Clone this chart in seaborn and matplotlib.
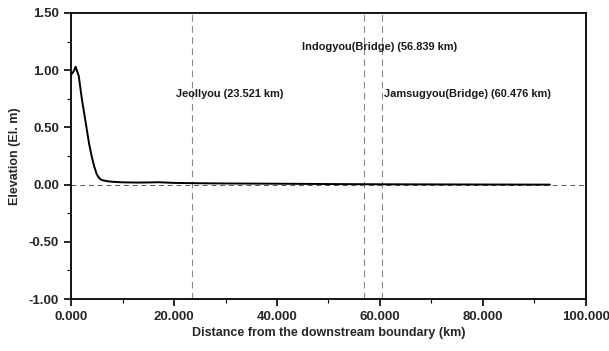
import matplotlib
matplotlib.use("Agg")
import matplotlib.pyplot as plt
import seaborn as sns
import pandas as pd
from matplotlib.ticker import MultipleLocator, FormatStrFormatter
from matplotlib import font_manager

distance_km = [0.0, 0.5, 0.9, 1.5, 2.1, 2.5, 3.0, 3.5, 4.0, 4.5, 5.0, 5.5, 6.0, 7.0, 8.0,
               10.0, 13.0, 15.0, 17.0, 20.0, 25.0, 30.0, 40.0, 50.0, 60.0, 70.0, 80.0, 93.0]
elevation_m = [0.96, 0.99, 1.03, 0.95, 0.75, 0.64, 0.50, 0.36, 0.25, 0.16, 0.09, 0.055, 0.04, 0.03, 0.025,
               0.02, 0.018, 0.019, 0.021, 0.015, 0.012, 0.01, 0.008, 0.005, 0.003, 0.002, 0.001, 0.0]

station_names = ["Jeollyou (23.521 km)", "Indogyou(Bridge) (56.839 km)", "Jamsugyou(Bridge) (60.476 km)"]
station_km = [23.521, 56.839, 60.476]
label_x = [20.3, 44.9, 60.7]
label_y = [0.79, 1.20, 0.79]

sns.set_theme(style="ticks")
plt.rcParams['font.family'] = ['Liberation Sans', 'DejaVu Sans']

bold = None
for f in font_manager.findSystemFonts():
    if f.split("/")[-1] == "LiberationSans-Bold.ttf":
        bold = f
ann_font = (font_manager.FontProperties(fname=bold, size=7.9) if bold
            else font_manager.FontProperties(family="Roboto", weight="bold", size=7.9))

fig = plt.figure(figsize=(6.09, 3.51), dpi=100)
ax = fig.add_axes([0.1166, 0.148, 0.8456, 0.815])

df = pd.DataFrame({"x": distance_km, "y": elevation_m})
sns.lineplot(data=df, x="x", y="y", ax=ax, color="black", linewidth=1.4)

ax.axhline(0, color="#555555", linestyle=(0, (5, 4)), linewidth=0.7, zorder=1)
for k in station_km:
    ax.axvline(k, color="#8a8a8a", linestyle=(0, (6, 4)), linewidth=0.8, zorder=1)
for name, lx, ly in zip(station_names, label_x, label_y):
    ax.text(lx, ly, name, fontproperties=ann_font, color="#1a1a1a", va="center", ha="left")

ax.set_xlim(0, 100)
ax.set_ylim(-1.0, 1.5)
ax.xaxis.set_major_locator(MultipleLocator(20))
ax.xaxis.set_minor_locator(MultipleLocator(10))
ax.yaxis.set_major_locator(MultipleLocator(0.5))
ax.yaxis.set_minor_locator(MultipleLocator(0.25))
ax.xaxis.set_major_formatter(FormatStrFormatter("%.3f"))
ax.yaxis.set_major_formatter(FormatStrFormatter("%.2f"))
ax.tick_params(axis="both", which="major", direction="out", length=5, width=1.2,
               labelsize=9.5, color="black")
ax.tick_params(axis="both", which="minor", direction="out", length=3, width=0.8, color="black")
for lab in ax.get_xticklabels() + ax.get_yticklabels():
    lab.set_fontweight("bold")

for s in ax.spines.values():
    s.set_color("black")
    s.set_linewidth(1.3)

ax.set_xlabel("Distance from the downstream boundary (km)", fontsize=9, fontweight="bold", labelpad=3)
ax.set_ylabel("Elevation (El. m)", fontsize=9, fontweight="bold", labelpad=6)

fig.savefig("out.png", dpi=100)
